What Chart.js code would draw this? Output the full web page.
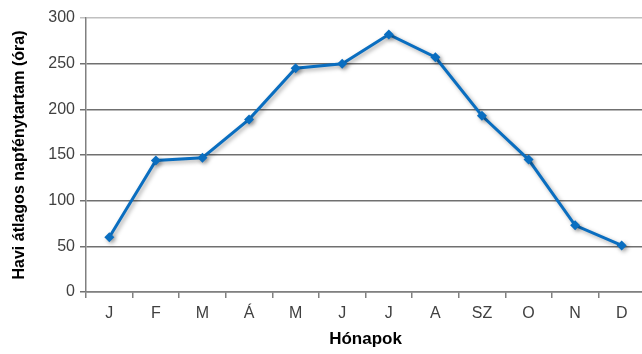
<!DOCTYPE html>
<html>
<head>
<meta charset="utf-8">
<script src="https://cdn.jsdelivr.net/npm/chart.js@4"></script>
<style>
  html, body { margin: 0; padding: 0; background: #fff; overflow: hidden; }
  #wrap { width: 650px; height: 354px; }
</style>
</head>
<body>
<div id="wrap"><canvas id="sun"></canvas></div>
<script>
// Havi átlagos napfénytartam
var honapok = ["J", "F", "M", "Á", "M", "J", "J", "A", "SZ", "O", "N", "D"];
var napfeny = [60, 144, 147, 189, 245, 250, 282, 257, 193, 145, 73, 51];
var yTicks = [0, 50, 100, 150, 200, 250, 300];

// soft drop shadow under the line, like the Excel original
var shadow = {
    id: "shadow",
    beforeDatasetsDraw: function (chart) {
        var c = chart.ctx;
        c.save();
        c.shadowColor = "rgba(0,0,0,0.35)";
        c.shadowBlur = 4;
        c.shadowOffsetX = 2;
        c.shadowOffsetY = 2;
    },
    afterDatasetsDraw: function (chart) {
        chart.ctx.restore();
    }
};

Chart.defaults.font.family = "'Liberation Sans', Arial, sans-serif";
Chart.defaults.color = "#404040";

var ctx = document.getElementById("sun").getContext("2d");
var chart = new Chart(ctx, {
    type: "line",
    data: {
        labels: honapok,
        datasets: [{
            data: napfeny,
            borderColor: "#0A6EC0",
            backgroundColor: "#0A6EC0",
            borderWidth: 3,
            pointStyle: "rectRot",
            pointRadius: 5,
            pointBorderWidth: 0,
            tension: 0
        }]
    },
    options: {
        responsive: true,
        maintainAspectRatio: false,
        animation: false,
        layout: { padding: { top: 18, right: 0, bottom: 0, left: 0 } },
        plugins: {
            legend: { display: false },
            tooltip: { enabled: false }
        },
        scales: {
            x: {
                offset: true,
                grid: {
                    offset: true,
                    drawOnChartArea: false,
                    drawTicks: true,
                    tickLength: 6,
                    color: "#808080",
                    lineWidth: 1.5
                },
                border: { color: "#808080", width: 1.5 },
                ticks: { font: { size: 16 }, padding: 6, maxRotation: 0 },
                title: {
                    display: true,
                    text: "Hónapok",
                    color: "#000",
                    font: { size: 17, weight: "bold" },
                    padding: { top: 9 }
                },
                afterFit: function (s) { s.height = 62; }
            },
            y: {
                min: 0,
                max: 300,
                afterBuildTicks: function (s) {
                    s.ticks = yTicks.map(function (v) { return { value: v }; });
                },
                grid: {
                    tickLength: 6,
                    lineWidth: 1.5,
                    color: function (c) {
                        return c.tick && c.tick.value === 300 ? "#c0c0c0" : "#707070";
                    }
                },
                border: { color: "#808080", width: 1.5 },
                ticks: { font: { size: 16 }, padding: 5 },
                title: {
                    display: true,
                    text: "Havi átlagos napfénytartam (óra)",
                    color: "#000",
                    font: { size: 16, weight: "bold" },
                    padding: { top: 10, bottom: 4 }
                },
                afterFit: function (s) { s.width = 86; }
            }
        }
    },
    plugins: [shadow]
});
</script>
</body>
</html>
